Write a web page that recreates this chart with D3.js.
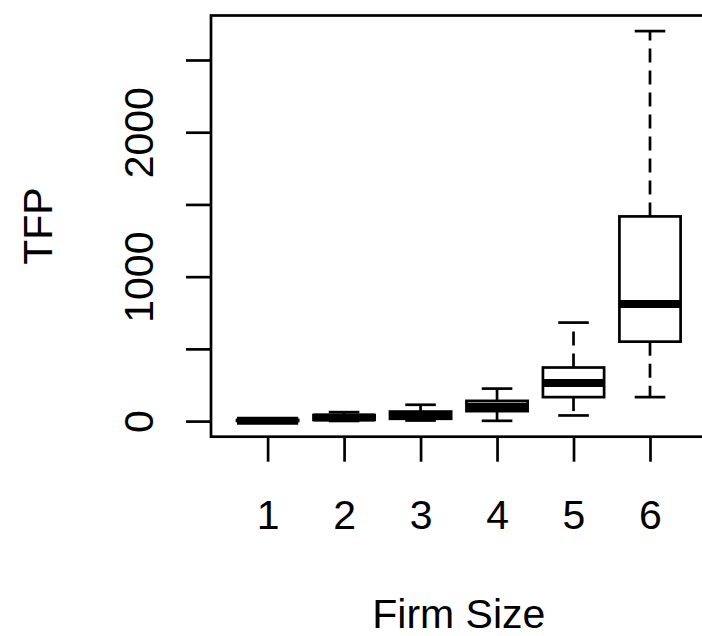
<!DOCTYPE html>
<html>
<head>
<meta charset="utf-8">
<script src="https://cdn.jsdelivr.net/npm/d3@7"></script>
<style>
    html, body { margin: 0; padding: 0; background: #fff; overflow: hidden; }
    svg { display: block; }
    text { font-family: "Liberation Sans", Arial, sans-serif; fill: #000; }
</style>
</head>
<body>
<svg></svg>
<script>
    //-------------------
    // DATA
    //-------------------
    var firmSizes = ["1", "2", "3", "4", "5", "6"];
    var lowerWhisker = [0, 1, 4, 2, 39, 166];
    var lowerQuartile = [1, 8, 16, 69, 166, 550];
    var medians = [3, 25, 40, 100, 264, 811];
    var upperQuartile = [8, 42, 66, 140, 371, 1417];
    var upperWhisker = [14, 62, 113, 225, 682, 2700];

    var yTicks = [0, 500, 1000, 1500, 2000, 2500];
    var yTickLabels = ["0", "", "1000", "", "2000", ""];

    //-------------------
    // GLOBAL VARIABLES
    //-------------------
    var width = 702,
        height = 636;

    var plot = { left: 211, top: 15.5, right: 706.6, bottom: 436.7 };

    var svg = d3.select("svg")
        .attr("width", width)
        .attr("height", height);

    var boxes = firmSizes.map((s, i) => ({
        size: +s,
        lo: lowerWhisker[i],
        q1: lowerQuartile[i],
        med: medians[i],
        q3: upperQuartile[i],
        hi: upperWhisker[i]
    }));

    // R style 4% padding around the data range
    var xPad = (firmSizes.length) * 0.04;
    var x = d3.scaleLinear()
        .domain([0.5 - xPad, firmSizes.length + 0.5 + xPad])
        .range([plot.left, plot.right]);

    var yMin = d3.min(lowerWhisker),
        yMax = d3.max(upperWhisker),
        yPad = (yMax - yMin) * 0.04;
    var y = d3.scaleLinear()
        .domain([yMin - yPad, yMax + yPad])
        .range([plot.bottom, plot.top]);

    var boxHalf = (x(1.4) - x(1)),
        stapleHalf = boxHalf / 2;

    //------------
    //  BOXES
    //------------
    var g = svg.append("g").attr("class", "boxes");

    var box = g.selectAll("g.box").data(boxes)
        .enter()
        .append("g")
        .attr("class", "box");

    // dashed whiskers
    box.append("line")
        .attr("x1", d => x(d.size)).attr("x2", d => x(d.size))
        .attr("y1", d => y(d.q3)).attr("y2", d => y(d.hi))
        .attr("stroke", "#000").attr("stroke-width", 2.7)
        .attr("stroke-dasharray", "14,8");
    box.append("line")
        .attr("x1", d => x(d.size)).attr("x2", d => x(d.size))
        .attr("y1", d => y(d.q1)).attr("y2", d => y(d.lo))
        .attr("stroke", "#000").attr("stroke-width", 2.7)
        .attr("stroke-dasharray", "14,8");

    // staples
    box.append("line")
        .attr("x1", d => x(d.size) - stapleHalf).attr("x2", d => x(d.size) + stapleHalf)
        .attr("y1", d => y(d.hi)).attr("y2", d => y(d.hi))
        .attr("stroke", "#000").attr("stroke-width", 2.7);
    box.append("line")
        .attr("x1", d => x(d.size) - stapleHalf).attr("x2", d => x(d.size) + stapleHalf)
        .attr("y1", d => y(d.lo)).attr("y2", d => y(d.lo))
        .attr("stroke", "#000").attr("stroke-width", 2.7);

    // box
    box.append("rect")
        .attr("x", d => x(d.size) - boxHalf)
        .attr("width", boxHalf * 2)
        .attr("y", d => y(d.q3))
        .attr("height", d => y(d.q1) - y(d.q3))
        .attr("fill", "#fff")
        .attr("stroke", "#000")
        .attr("stroke-width", 2.7);

    // median
    box.append("line")
        .attr("x1", d => x(d.size) - boxHalf).attr("x2", d => x(d.size) + boxHalf)
        .attr("y1", d => y(d.med)).attr("y2", d => y(d.med))
        .attr("stroke", "#000").attr("stroke-width", 8);

    //------------
    //  FRAME
    //------------
    svg.append("rect")
        .attr("x", plot.left)
        .attr("y", plot.top)
        .attr("width", plot.right - plot.left)
        .attr("height", plot.bottom - plot.top)
        .attr("fill", "none")
        .attr("stroke", "#000")
        .attr("stroke-width", 2.7);

    //------------
    //  AXES
    //------------
    var xAxis = d3.axisBottom(x)
        .tickValues(boxes.map(d => d.size))
        .tickFormat((d, i) => firmSizes[i])
        .tickSize(25)
        .tickPadding(35);

    svg.append("g")
        .attr("class", "x axis")
        .attr("transform", "translate(0," + plot.bottom + ")")
        .call(xAxis)
        .call(a => a.select(".domain").remove())
        .call(a => a.selectAll("line").attr("stroke", "#000").attr("stroke-width", 2.7))
        .call(a => a.selectAll("text")
            .attr("dy", null)
            .attr("y", 92)
            .style("font-size", "41px")
            .attr("font-family", null));

    var yAxis = d3.axisLeft(y)
        .tickValues(yTicks)
        .tickFormat((d, i) => yTickLabels[i])
        .tickSize(25);

    svg.append("g")
        .attr("class", "y axis")
        .attr("transform", "translate(" + plot.left + ",0)")
        .call(yAxis)
        .call(a => a.select(".domain").remove())
        .call(a => a.selectAll("line").attr("stroke", "#000").attr("stroke-width", 2.7))
        .call(a => a.selectAll("text")
            .attr("x", null).attr("dy", null)
            .attr("text-anchor", "middle")
            .attr("transform", "translate(-58,0) rotate(-90)")
            .style("font-size", "41px")
            .attr("font-family", null));

    //------------
    //  TITLES
    //------------
    svg.append("text")
        .attr("text-anchor", "middle")
        .attr("x", (plot.left + plot.right) / 2)
        .attr("y", 628)
        .style("font-size", "41px")
        .text("Firm Size");

    svg.append("text")
        .attr("text-anchor", "middle")
        .attr("transform", "translate(52," + (plot.top + plot.bottom) / 2 + ") rotate(-90)")
        .style("font-size", "41px")
        .text("TFP");
</script>
</body>
</html>
